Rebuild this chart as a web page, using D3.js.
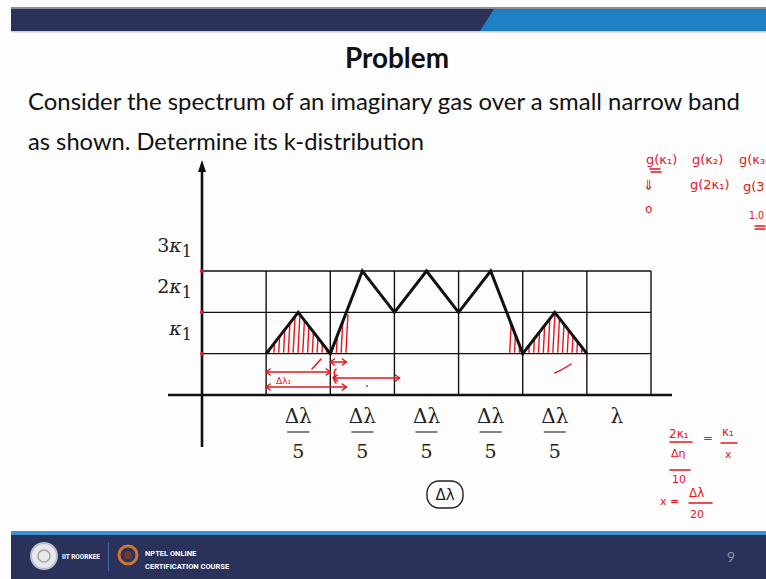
<!DOCTYPE html>
<html>
<head>
<meta charset="utf-8">
<script src="https://cdn.jsdelivr.net/npm/d3@7/dist/d3.min.js"></script>
<style>
  html, body { margin: 0; padding: 0; background: #fff; }
  svg { display: block; }
</style>
</head>
<body>
<svg id="slide" width="766" height="579"></svg>
<script>
// Spectrum of the imaginary gas: wavelength in units of one cell (Δλ/5), absorption in units of κ1
const lambdaPts = [1, 1.5, 2, 2.5, 3, 3.5, 4, 4.5, 5, 5.5, 6];
const kappaPts  = [1, 2,   1, 3,   2, 3,   2, 3,   1, 2,   1];

// Cell labels along the wavelength axis
const cellCenters = [1.5, 2.5, 3.5, 4.5, 5.5];
const cellNumer = ["Δλ", "Δλ", "Δλ", "Δλ", "Δλ"];
const cellDenom = ["5", "5", "5", "5", "5"];

// Absorption-coefficient levels on the vertical axis
const kLevels = [1, 2, 3];
const kLabelsPre = ["", "2", "3"];

// Wavelength ranges where κ1 ≤ κ ≤ 2κ1 (shaded)
const hatchRanges = [[1, 2.25], [4.75, 6]];

const svg = d3.select("#slide");

// ---------- slide frame ----------
const navy = "#2a325c";
const blue = "#1f80c5";
svg.append("rect").attr("x", 0).attr("y", 0).attr("width", 766).attr("height", 579).attr("fill", "#fdfdfd");
svg.append("rect").attr("x", 11).attr("y", 7).attr("width", 755).attr("height", 2).attr("fill", "#8a8d96");
svg.append("rect").attr("x", 11).attr("y", 9).attr("width", 755).attr("height", 22).attr("fill", navy);
svg.append("path").attr("d", "M494,9 L766,9 L766,31 L480,31 Z").attr("fill", blue);
svg.append("rect").attr("x", 11).attr("y", 31).attr("width", 755).attr("height", 1.5).attr("fill", "#c9cfe0");

// footer
svg.append("rect").attr("x", 11).attr("y", 531).attr("width", 755).attr("height", 4).attr("fill", "#3b93d3");
svg.append("rect").attr("x", 11).attr("y", 535).attr("width", 755).attr("height", 44).attr("fill", navy);
svg.append("circle").attr("cx", 44).attr("cy", 556).attr("r", 13).attr("fill", "#e6e8ee").attr("stroke", "#b8bccb").attr("stroke-width", 2);
svg.append("circle").attr("cx", 44).attr("cy", 556).attr("r", 6).attr("fill", "none").attr("stroke", "#a8a392").attr("stroke-width", 1.5);
svg.append("text").attr("x", 62).attr("y", 559).attr("fill", "#fff")
  .attr("font-family", "Roboto, sans-serif").attr("font-weight", 700).attr("font-size", 7.5)
  .attr("textLength", 38).attr("lengthAdjust", "spacingAndGlyphs").text("IIT ROORKEE");
svg.append("rect").attr("x", 108).attr("y", 543).attr("width", 1).attr("height", 28).attr("fill", "#4a6fa8");
svg.append("circle").attr("cx", 128).attr("cy", 555).attr("r", 9).attr("fill", "none").attr("stroke", "#d0762e").attr("stroke-width", 3);
svg.append("circle").attr("cx", 128).attr("cy", 555).attr("r", 4).attr("fill", "#6b3b2e");
svg.append("text").attr("x", 145).attr("y", 556).attr("fill", "#fff")
  .attr("font-family", "Roboto, sans-serif").attr("font-weight", 700).attr("font-size", 7.5).text("NPTEL ONLINE");
svg.append("text").attr("x", 145).attr("y", 569).attr("fill", "#fff")
  .attr("font-family", "Roboto, sans-serif").attr("font-weight", 700).attr("font-size", 7.5).text("CERTIFICATION COURSE");
svg.append("text").attr("x", 727).attr("y", 562).attr("fill", "#8d93a8")
  .attr("font-family", "Lato, sans-serif").attr("font-size", 14).text("9");

// ---------- heading and statement ----------
svg.append("text").attr("x", 397).attr("y", 68).attr("text-anchor", "middle")
  .attr("font-family", "Lato, sans-serif").attr("font-weight", 700).attr("font-size", 29)
  .attr("textLength", 104).attr("lengthAdjust", "spacingAndGlyphs").attr("fill", "#111").text("Problem");
svg.append("text").attr("x", 28).attr("y", 110)
  .attr("font-family", "Lato, sans-serif").attr("font-size", 24)
  .attr("textLength", 712).attr("lengthAdjust", "spacingAndGlyphs").attr("fill", "#111")
  .text("Consider the spectrum of an imaginary gas over a small narrow band");
svg.append("text").attr("x", 28).attr("y", 150)
  .attr("font-family", "Lato, sans-serif").attr("font-size", 24)
  .attr("textLength", 396).attr("lengthAdjust", "spacingAndGlyphs").attr("fill", "#111")
  .text("as shown. Determine its k-distribution");

// ---------- chart ----------
const x = d3.scaleLinear().domain([0, 7]).range([202, 651]);
const y = d3.scaleLinear().domain([0, 3]).range([395, 271]);

const grid = svg.append("g").attr("stroke", "#111").attr("stroke-width", 1.4);
// horizontal grid lines
grid.selectAll("line.h").data(kLevels).join("line")
  .attr("x1", x(0)).attr("x2", x(7)).attr("y1", d => y(d)).attr("y2", d => y(d));
// vertical grid lines
grid.selectAll("line.v").data(d3.range(1, 8)).join("line")
  .attr("x1", d => x(d)).attr("x2", d => x(d)).attr("y1", y(3)).attr("y2", y(0));

// axes
svg.append("line").attr("x1", 168).attr("x2", 672).attr("y1", y(0)).attr("y2", y(0))
  .attr("stroke", "#111").attr("stroke-width", 2.6);
svg.append("line").attr("x1", x(0)).attr("x2", x(0)).attr("y1", 447).attr("y2", 170)
  .attr("stroke", "#111").attr("stroke-width", 2.6);
svg.append("path").attr("d", `M${x(0)},160 L${x(0) - 4},172 L${x(0) + 4},172 Z`).attr("fill", "#111");

// red marks on the vertical axis at each level
svg.selectAll("circle.lvl").data(kLevels).join("circle")
  .attr("cx", x(0)).attr("cy", d => y(d)).attr("r", 2).attr("fill", "#e8141b");

// hatching between κ1 and 2κ1 under the spectrum
const pts = lambdaPts.map((l, i) => [l, kappaPts[i]]);
const underArea = d3.area().x(d => x(d[0])).y0(y(1)).y1(d => y(d[1]));
const defs = svg.append("defs");
hatchRanges.forEach((r, i) => {
  const cp = defs.append("clipPath").attr("id", "hc" + i);
  cp.append("path").attr("d", underArea(pts));
  const g = svg.append("g").attr("clip-path", `url(#hc${i})`)
    .attr("stroke", "#e8141b").attr("stroke-width", 1.4);
  const x0 = x(r[0]), x1 = x(r[1]);
  g.selectAll("line").data(d3.range(x0 + 3, x1, 4.8)).join("line")
    .attr("x1", d => d).attr("x2", d => d + 2)
    .attr("y1", y(1) - 1).attr("y2", y(2) + 2);
});

// spectrum
svg.append("path").datum(pts)
  .attr("d", d3.line().x(d => x(d[0])).y(d => y(d[1])))
  .attr("fill", "none").attr("stroke", "#111").attr("stroke-width", 3).attr("stroke-linejoin", "miter");

// level labels
const serif = "'DejaVu Serif', 'Liberation Serif', serif";
kLevels.forEach((k, i) => {
  const t = svg.append("text").attr("x", 192).attr("y", y(k) - 19).attr("text-anchor", "end")
    .attr("font-family", serif).attr("font-size", 19).attr("fill", "#222");
  t.append("tspan").text(kLabelsPre[i]);
  t.append("tspan").attr("font-style", "italic").text("κ");
  t.append("tspan").attr("dy", 5).attr("font-size", 16).text("1");
});

// cell labels Δλ/5
const lab = svg.append("g").attr("font-family", serif).attr("fill", "#222").attr("text-anchor", "middle");
cellCenters.forEach((c, i) => {
  lab.append("text").attr("x", x(c)).attr("y", 423).attr("font-size", 20).text(cellNumer[i]);
  lab.append("line").attr("x1", x(c) - 11).attr("x2", x(c) + 11).attr("y1", 432).attr("y2", 432)
    .attr("stroke", "#333").attr("stroke-width", 1.2);
  lab.append("text").attr("x", x(c)).attr("y", 458).attr("font-size", 19).text(cellDenom[i]);
});
lab.append("text").attr("x", x(6.5) - 2).attr("y", 423).attr("font-size", 20).text("λ");

// ---------- red annotations ----------
const red = "#e8141b";
const ann = svg.append("g").attr("stroke", red).attr("fill", "none").attr("stroke-width", 1.5).attr("stroke-linecap", "round");
function arrow(xa, xb, yy) {
  ann.append("line").attr("x1", xa).attr("x2", xb).attr("y1", yy).attr("y2", yy);
  ann.append("path").attr("d", `M${xa + 4},${yy - 3} L${xa},${yy} L${xa + 4},${yy + 3}`);
  ann.append("path").attr("d", `M${xb - 4},${yy - 3} L${xb},${yy} L${xb - 4},${yy + 3}`);
}
arrow(x(2), x(2.25), 362);
arrow(x(1), x(2), 372);
arrow(x(1), x(2.25), 387);
arrow(x(2) + 3, x(3) + 5, 378);
ann.append("line").attr("x1", 312).attr("y1", 369).attr("x2", 321).attr("y2", 359);
ann.append("path").attr("d", "M336,369 Q333,372 335,375 Q332,378 336,383");
ann.append("path").attr("d", "M555,373 Q562,370 571,364");
svg.append("circle").attr("cx", 367).attr("cy", 386).attr("r", 0.9).attr("fill", red);

const hand = svg.append("g").attr("fill", red).attr("font-family", "'DejaVu Sans', sans-serif");
hand.append("text").attr("x", 276).attr("y", 384).attr("font-size", 9).text("Δλ₁");

// notes on the right margin
hand.append("text").attr("x", 646).attr("y", 164).attr("font-size", 13).text("g(κ₁)");
hand.append("text").attr("x", 692).attr("y", 164).attr("font-size", 13).text("g(κ₂)");
hand.append("text").attr("x", 739).attr("y", 164).attr("font-size", 13).text("g(κ₃");
hand.append("text").attr("x", 690).attr("y", 189).attr("font-size", 13).text("g(2κ₁)");
hand.append("text").attr("x", 743).attr("y", 191).attr("font-size", 13).text("g(3");
hand.append("text").attr("x", 643).attr("y", 190).attr("font-size", 14).text("⇓");
hand.append("text").attr("x", 645).attr("y", 213).attr("font-size", 12).text("o");
hand.append("text").attr("x", 749).attr("y", 219).attr("font-size", 10)
  .attr("textLength", 15).attr("lengthAdjust", "spacingAndGlyphs").text("1.0");
ann.append("line").attr("x1", 650).attr("x2", 660).attr("y1", 169).attr("y2", 169);
ann.append("line").attr("x1", 651).attr("x2", 661).attr("y1", 172).attr("y2", 172);
ann.append("line").attr("x1", 755).attr("x2", 765).attr("y1", 226).attr("y2", 226);
ann.append("line").attr("x1", 755).attr("x2", 765).attr("y1", 229).attr("y2", 229);

// worked relation at the bottom right
hand.append("text").attr("x", 669).attr("y", 438).attr("font-size", 12).text("2κ₁");
ann.append("line").attr("x1", 670).attr("x2", 692).attr("y1", 442).attr("y2", 442);
hand.append("text").attr("x", 671).attr("y", 457).attr("font-size", 11).text("Δη");
ann.append("line").attr("x1", 670).attr("x2", 690).attr("y1", 470).attr("y2", 470);
hand.append("text").attr("x", 672).attr("y", 483).attr("font-size", 11).text("10");
hand.append("text").attr("x", 703).attr("y", 442).attr("font-size", 12).text("=");
hand.append("text").attr("x", 722).attr("y", 436).attr("font-size", 12).text("κ₁");
ann.append("line").attr("x1", 721).attr("x2", 737).attr("y1", 443).attr("y2", 443);
hand.append("text").attr("x", 725).attr("y", 458).attr("font-size", 11).text("x");
hand.append("text").attr("x", 660).attr("y", 505).attr("font-size", 11).text("x =");
hand.append("text").attr("x", 689).attr("y", 497).attr("font-size", 12).text("Δλ");
ann.append("line").attr("x1", 689).attr("x2", 712).attr("y1", 503).attr("y2", 503);
hand.append("text").attr("x", 690).attr("y", 518).attr("font-size", 11).text("20");

// circled Δλ below the chart
svg.append("rect").attr("x", 427).attr("y", 481).attr("width", 36).attr("height", 27).attr("rx", 12)
  .attr("fill", "none").attr("stroke", "#222").attr("stroke-width", 1.4);
svg.append("text").attr("x", 445).attr("y", 500).attr("text-anchor", "middle").attr("font-size", 15)
  .attr("font-family", "'DejaVu Sans', sans-serif").attr("fill", "#222").text("Δλ");
</script>
</body>
</html>
